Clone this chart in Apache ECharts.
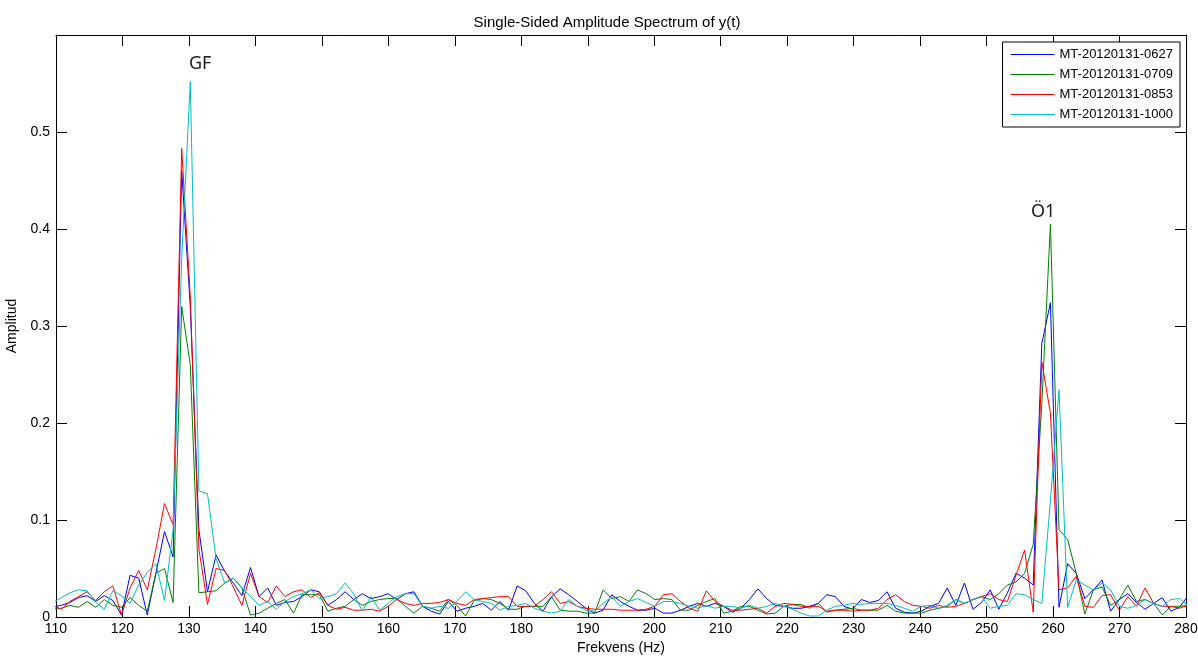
<!DOCTYPE html>
<html><head><meta charset="utf-8">
<script src="https://cdn.jsdelivr.net/npm/echarts@6/dist/echarts.min.js"></script>
<style>html,body{margin:0;padding:0;background:#fff}#chart{width:1198px;height:656px}</style>
</head><body><div id="chart"></div>
<script>
// ---- data ----
const seriesNames = ['MT-20120131-0627', 'MT-20120131-0709', 'MT-20120131-0853', 'MT-20120131-1000'];
const seriesColors = ['#0000FF', '#008000', '#FF0000', '#00BFBF'];
// FFT frequency grid (Hz): first bin and bin spacing
const freqStart = 109.5;
const freqStep = 1.294;

const amp0627 = [
  0.010,0.012,0.015,0.020,0.022,0.016,0.022,0.017,0.002,0.043,
  0.040,0.002,0.045,0.088,0.062,0.460,0.320,0.090,0.026,0.064,
  0.047,0.035,0.022,0.051,0.021,0.030,0.012,0.015,0.016,0.021,
  0.028,0.026,0.012,0.018,0.026,0.018,0.024,0.019,0.021,0.024,
  0.018,0.024,0.026,0.011,0.006,0.003,0.016,0.006,0.009,0.011,
  0.014,0.007,0.016,0.007,0.032,0.027,0.014,0.006,0.021,0.029,
  0.023,0.016,0.009,0.004,0.007,0.023,0.016,0.011,0.007,0.007,
  0.009,0.004,0.004,0.007,0.011,0.014,0.011,0.014,0.011,0.005,
  0.009,0.018,0.029,0.019,0.012,0.011,0.009,0.009,0.011,0.014,
  0.023,0.021,0.011,0.008,0.018,0.015,0.017,0.026,0.009,0.005,
  0.004,0.006,0.011,0.014,0.030,0.012,0.035,0.008,0.015,0.028,
  0.008,0.025,0.045,0.040,0.033,0.282,0.324,0.010,0.055,0.045,
  0.019,0.028,0.038,0.006,0.018,0.024,0.015,0.008,0.014,0.020,
  0.006,0.010,0.022
];
const amp0709 = [
  0.008,0.009,0.012,0.010,0.016,0.010,0.018,0.012,0.010,0.020,
  0.012,0.006,0.045,0.050,0.015,0.320,0.260,0.025,0.026,0.027,
  0.035,0.040,0.030,0.002,0.004,0.009,0.014,0.018,0.004,0.023,
  0.023,0.023,0.006,0.009,0.011,0.018,0.012,0.016,0.018,0.019,
  0.019,0.011,0.004,0.011,0.009,0.006,0.018,0.012,0.001,0.017,
  0.019,0.018,0.014,0.008,0.008,0.011,0.011,0.011,0.021,0.007,
  0.006,0.006,0.004,0.004,0.028,0.019,0.021,0.016,0.028,0.024,
  0.018,0.019,0.018,0.007,0.007,0.012,0.016,0.019,0.004,0.006,
  0.011,0.011,0.007,0.003,0.004,0.011,0.013,0.013,0.009,0.014,
  0.005,0.007,0.008,0.009,0.007,0.007,0.007,0.012,0.006,0.004,
  0.004,0.004,0.007,0.009,0.011,0.018,0.014,0.018,0.021,0.018,
  0.024,0.033,0.036,0.045,0.075,0.220,0.405,0.090,0.080,0.045,
  0.003,0.028,0.031,0.012,0.018,0.033,0.016,0.018,0.014,0.002,
  0.011,0.011,0.012
];
const amp0853 = [
  0.012,0.008,0.016,0.021,0.026,0.017,0.026,0.032,0.002,0.030,
  0.048,0.028,0.070,0.117,0.095,0.483,0.330,0.070,0.013,0.050,
  0.048,0.031,0.012,0.045,0.021,0.015,0.032,0.021,0.026,0.028,
  0.020,0.025,0.012,0.008,0.010,0.007,0.007,0.008,0.006,0.011,
  0.018,0.014,0.012,0.014,0.014,0.015,0.018,0.014,0.012,0.018,
  0.019,0.020,0.021,0.021,0.011,0.011,0.011,0.018,0.026,0.014,
  0.016,0.011,0.009,0.008,0.008,0.008,0.007,0.007,0.007,0.008,
  0.011,0.023,0.024,0.016,0.009,0.006,0.027,0.016,0.011,0.007,
  0.007,0.008,0.009,0.004,0.011,0.014,0.013,0.011,0.011,0.011,
  0.006,0.007,0.007,0.006,0.007,0.007,0.009,0.018,0.023,0.016,
  0.012,0.011,0.009,0.012,0.010,0.011,0.014,0.018,0.021,0.024,
  0.018,0.016,0.043,0.069,0.005,0.263,0.210,0.028,0.030,0.042,
  0.011,0.010,0.022,0.023,0.007,0.021,0.011,0.030,0.014,0.011,
  0.011,0.009,0.012
];
const amp1000 = [
  0.015,0.020,0.025,0.028,0.027,0.015,0.008,0.027,0.022,0.014,
  0.033,0.046,0.055,0.017,0.090,0.370,0.552,0.130,0.127,0.060,
  0.035,0.040,0.030,0.021,0.012,0.016,0.008,0.016,0.021,0.024,
  0.028,0.019,0.021,0.024,0.035,0.024,0.006,0.021,0.007,0.014,
  0.021,0.024,0.024,0.011,0.009,0.011,0.009,0.016,0.026,0.018,
  0.016,0.014,0.007,0.011,0.012,0.014,0.009,0.006,0.004,0.006,
  0.018,0.011,0.007,0.006,0.014,0.021,0.011,0.016,0.019,0.015,
  0.011,0.016,0.016,0.014,0.011,0.009,0.012,0.009,0.011,0.011,
  0.009,0.012,0.009,0.011,0.014,0.011,0.008,0.004,0.001,0.001,
  0.007,0.011,0.012,0.014,0.013,0.014,0.014,0.014,0.012,0.009,
  0.006,0.011,0.012,0.009,0.012,0.018,0.014,0.018,0.021,0.009,
  0.011,0.012,0.024,0.023,0.018,0.014,0.120,0.234,0.010,0.038,
  0.033,0.028,0.035,0.028,0.011,0.009,0.012,0.018,0.014,0.011,
  0.018,0.019,0.012
];
const seriesValues = [amp0627, amp0709, amp0853, amp1000];

// annotations (data coordinates)
const annoLabels = ['GF', 'Ö1'];
const annoFreq = [131.7, 258.5];
const annoAmp = [0.570, 0.418];

// axes
const xMin = 110, xMax = 280, xStep = 10;
const yMin = 0, yMax = 0.6, yStep = 0.1;

// ---- chart ----
const freqs = amp0627.map((_, i) => +(freqStart + i * freqStep).toFixed(3));
const FONT = "'Liberation Sans', Arial, Helvetica, sans-serif";
const chart = echarts.init(document.getElementById('chart'), null, {renderer: 'canvas'});

const series = seriesValues.map((vals, si) => {
  const s = {
    name: seriesNames[si],
    type: 'line',
    data: freqs.map((f, i) => [f, vals[i]]),
    showSymbol: false,
    symbol: 'none',
    clip: true,
    lineStyle: {width: 1, color: seriesColors[si]},
    itemStyle: {color: seriesColors[si]},
    emphasis: {disabled: true},
    z: 2 + si
  };
  if (si === seriesValues.length - 1) {
    s.markPoint = {
      symbol: 'circle',
      symbolSize: 1,
      itemStyle: {color: 'rgba(0,0,0,0)'},
      label: {
        show: true, position: 'inside', formatter: p => p.name,
        fontSize: 18, color: '#1a1a1a', fontFamily: "'Noto Sans', 'Open Sans', sans-serif"
      },
      data: annoLabels.map((n, i) => ({name: n, coord: [annoFreq[i], annoAmp[i]]}))
    };
  }
  return s;
});

const axisCommon = {
  axisLine: {show: true, onZero: false, lineStyle: {color: '#000', width: 1}},
  axisTick: {show: true, inside: true, length: 11, lineStyle: {color: '#000', width: 1}},
  splitLine: {show: false}
};

chart.setOption({
  animation: false,
  backgroundColor: '#fff',
  title: {
    text: 'Single-Sided Amplitude Spectrum of y(t)',
    left: 602, top: 10, textAlign: 'center',
    textStyle: {fontSize: 15, fontWeight: 'normal', color: '#000', fontFamily: FONT}
  },
  grid: {left: 56, right: 12, top: 35, bottom: 39, containLabel: false, outerBoundsMode: 'none'},
  legend: {
    data: seriesNames,
    orient: 'vertical',
    right: 18, top: 42,
    icon: 'rect', itemWidth: 44, itemHeight: 1,
    itemGap: 5,
    padding: [5, 7, 5, 8],
    backgroundColor: '#fff',
    borderColor: '#000', borderWidth: 1,
    textStyle: {fontSize: 13, color: '#000', fontFamily: FONT, lineHeight: 15}
  },
  xAxis: [
    Object.assign({
      type: 'value', min: xMin, max: xMax, interval: xStep, position: 'bottom',
      name: 'Frekvens (Hz)', nameLocation: 'middle', nameGap: 23,
      nameTextStyle: {fontSize: 14, color: '#000', fontFamily: FONT},
      axisLabel: {fontSize: 14, color: '#000', fontFamily: FONT, margin: 5}
    }, axisCommon),
    Object.assign({
      type: 'value', min: xMin, max: xMax, interval: xStep, position: 'top',
      axisLabel: {show: false}
    }, axisCommon)
  ],
  yAxis: [
    Object.assign({
      type: 'value', min: yMin, max: yMax, interval: yStep, position: 'left',
      name: 'Amplitud', nameLocation: 'middle', nameGap: 32, nameRotate: 90,
      nameTextStyle: {fontSize: 14, color: '#000', fontFamily: FONT},
      axisLabel: {fontSize: 14, color: '#000', fontFamily: FONT, margin: 6, showMaxLabel: false}
    }, axisCommon),
    Object.assign({
      type: 'value', min: yMin, max: yMax, interval: yStep, position: 'right',
      axisLabel: {show: false}
    }, axisCommon)
  ],
  series: series
});
</script>
</body></html>
